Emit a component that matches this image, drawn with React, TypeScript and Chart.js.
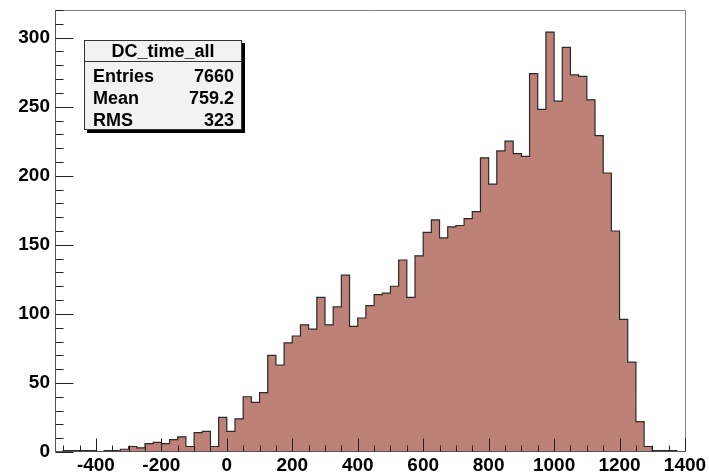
import React, { useEffect, useRef } from "react";
import { Chart, registerables } from "chart.js";

Chart.register(...registerables);

// Histogram definition: 77 bins of width 25 from -525 to 1400
const binStart = -525;
const binWidth = 25;
const counts = [
  0, 1, 1, 1, 1, 0, 1, 1, 2, 4, 3, 6, 7, 6, 9, 11, 4, 14, 15, 4, 25,
  15, 24, 40, 36, 43, 70, 63, 79, 84, 92, 89, 112, 92, 105, 128,
  91, 97, 106, 114, 115, 120, 139, 112, 142, 159, 168, 155, 163, 164, 169, 174,
  213, 194, 218, 225, 216, 214, 274, 248, 304, 254, 293, 273, 272, 255,
  229, 202, 160, 96, 65, 22, 4, 1, 1, 1, 0,
];

const xMin = -525;
const xMax = 1400;
const xMajorStep = 200;
const xMinorStep = 50;
const yMin = 0;
const yMax = 320;
const yMajorStep = 50;
const yMinorStep = 10;

const statsTitle = "DC_time_all";
const statsLabels = ["Entries", "Mean", "RMS"];
const statsValues = ["7660", "759.2", "323"];

const FONT = "'Liberation Sans', Arial, Helvetica, sans-serif";

const rootAxesPlugin = {
  id: "rootAxes",
  afterDatasetsDraw(chart: any) {
    const { ctx, chartArea: a, scales } = chart;
    const xs = scales.x;
    const ys = scales.y;
    const L = Math.round(a.left) + 0.5;
    const R = Math.round(a.right) + 0.5;
    const T = Math.round(a.top) + 0.5;
    const B = Math.round(a.bottom) - 0.5;
    ctx.save();
    ctx.lineWidth = 1;
    ctx.strokeStyle = "#808080";
    ctx.beginPath();
    ctx.moveTo(L, T);
    ctx.lineTo(R, T);
    ctx.lineTo(R, B);
    ctx.stroke();
    ctx.strokeStyle = "#555555";
    ctx.beginPath();
    ctx.moveTo(L, T);
    ctx.lineTo(L, B);
    ctx.lineTo(R, B);
    ctx.stroke();
    ctx.strokeStyle = "#222222";
    ctx.beginPath();
    for (let v = yMin; v <= yMax + 1e-6; v += yMinorStep) {
      const py = Math.round(ys.getPixelForValue(v)) + 0.5;
      const len = v % yMajorStep === 0 ? 18 : 8;
      ctx.moveTo(L, py);
      ctx.lineTo(L + len, py);
    }
    const firstX = Math.ceil(xMin / xMinorStep) * xMinorStep;
    for (let v = firstX; v <= xMax + 1e-6; v += xMinorStep) {
      const px = Math.round(xs.getPixelForValue(v)) + 0.5;
      const len = v % xMajorStep === 0 ? 13 : 6;
      ctx.moveTo(px, B);
      ctx.lineTo(px, B - len);
    }
    ctx.stroke();
    ctx.restore();
  },
};

export default function App() {
  const canvasRef = useRef<HTMLCanvasElement | null>(null);

  useEffect(() => {
    document.body.style.margin = "0";
    const canvas = canvasRef.current;
    if (!canvas) return;
    const points = counts.map((c, i) => ({ x: binStart + i * binWidth, y: c }));
    points.push({ x: binStart + counts.length * binWidth, y: 0 });

    const chart = new Chart(canvas, {
      type: "line",
      data: {
        datasets: [
          {
            data: points,
            stepped: "before",
            fill: "origin",
            backgroundColor: "rgb(190,129,119)",
            borderColor: "#2a2a2a",
            borderWidth: 1.2,
            pointRadius: 0,
            tension: 0,
          },
        ],
      },
      options: {
        responsive: false,
        animation: false,
        devicePixelRatio: 1,
        layout: { padding: { left: 0, right: 24, top: 10, bottom: 0 } },
        plugins: { legend: { display: false }, tooltip: { enabled: false } },
        scales: {
          x: {
            type: "linear",
            min: xMin,
            max: xMax,
            grid: { display: false, drawTicks: false },
            border: { display: false },
            ticks: {
              stepSize: xMajorStep,
              includeBounds: false,
              autoSkip: false,
              maxRotation: 0,
              padding: 2,
              color: "#000",
              font: { family: FONT, size: 19, weight: "bold" },
              callback: (v: any) => String(v),
            },
            afterFit: (s: any) => {
              s.height = 21;
              s.paddingLeft = 0;
              s.paddingRight = 0;
            },
          },
          y: {
            type: "linear",
            min: yMin,
            max: yMax,
            grid: { display: false, drawTicks: false },
            border: { display: false },
            ticks: {
              stepSize: yMajorStep,
              includeBounds: false,
              padding: 5,
              color: "#000",
              font: { family: FONT, size: 19, weight: "bold" },
              callback: (v: any) => String(v),
            },
            afterFit: (s: any) => {
              s.width = 55;
              s.paddingTop = 0;
              s.paddingBottom = 0;
            },
          },
        },
      },
      plugins: [rootAxesPlugin],
    } as any);
    return () => chart.destroy();
  }, []);

  const rowTops = [24, 46, 67.5];

  return (
    <div style={{ position: "relative", width: 709, height: 473, background: "#fff" }}>
      <canvas ref={canvasRef} width={709} height={473} style={{ display: "block" }} />
      <div
        style={{
          position: "absolute",
          left: 84,
          top: 40,
          width: 158,
          height: 90,
          boxSizing: "border-box",
          border: "1px solid #333",
          background: "#f2f2f2",
          boxShadow: "3px 3px 0 #000",
          fontFamily: FONT,
          fontWeight: "bold",
          fontSize: 18,
          color: "#000",
        }}
      >
        <div
          style={{
            position: "absolute",
            left: 0,
            right: 0,
            top: -1,
            height: 22,
            lineHeight: "22px",
            textAlign: "center",
          }}
        >
          {statsTitle}
        </div>
        <div style={{ position: "absolute", left: 0, right: 0, top: 20, height: 1, background: "#333" }} />
        {statsLabels.map((lab, i) => (
          <React.Fragment key={lab}>
            <div
              style={{
                position: "absolute",
                left: 8,
                top: rowTops[i],
                lineHeight: "22px",
              }}
            >
              {lab}
            </div>
            <div
              style={{
                position: "absolute",
                right: 7,
                top: rowTops[i],
                lineHeight: "22px",
                textAlign: "right",
              }}
            >
              {statsValues[i]}
            </div>
          </React.Fragment>
        ))}
      </div>
    </div>
  );
}
